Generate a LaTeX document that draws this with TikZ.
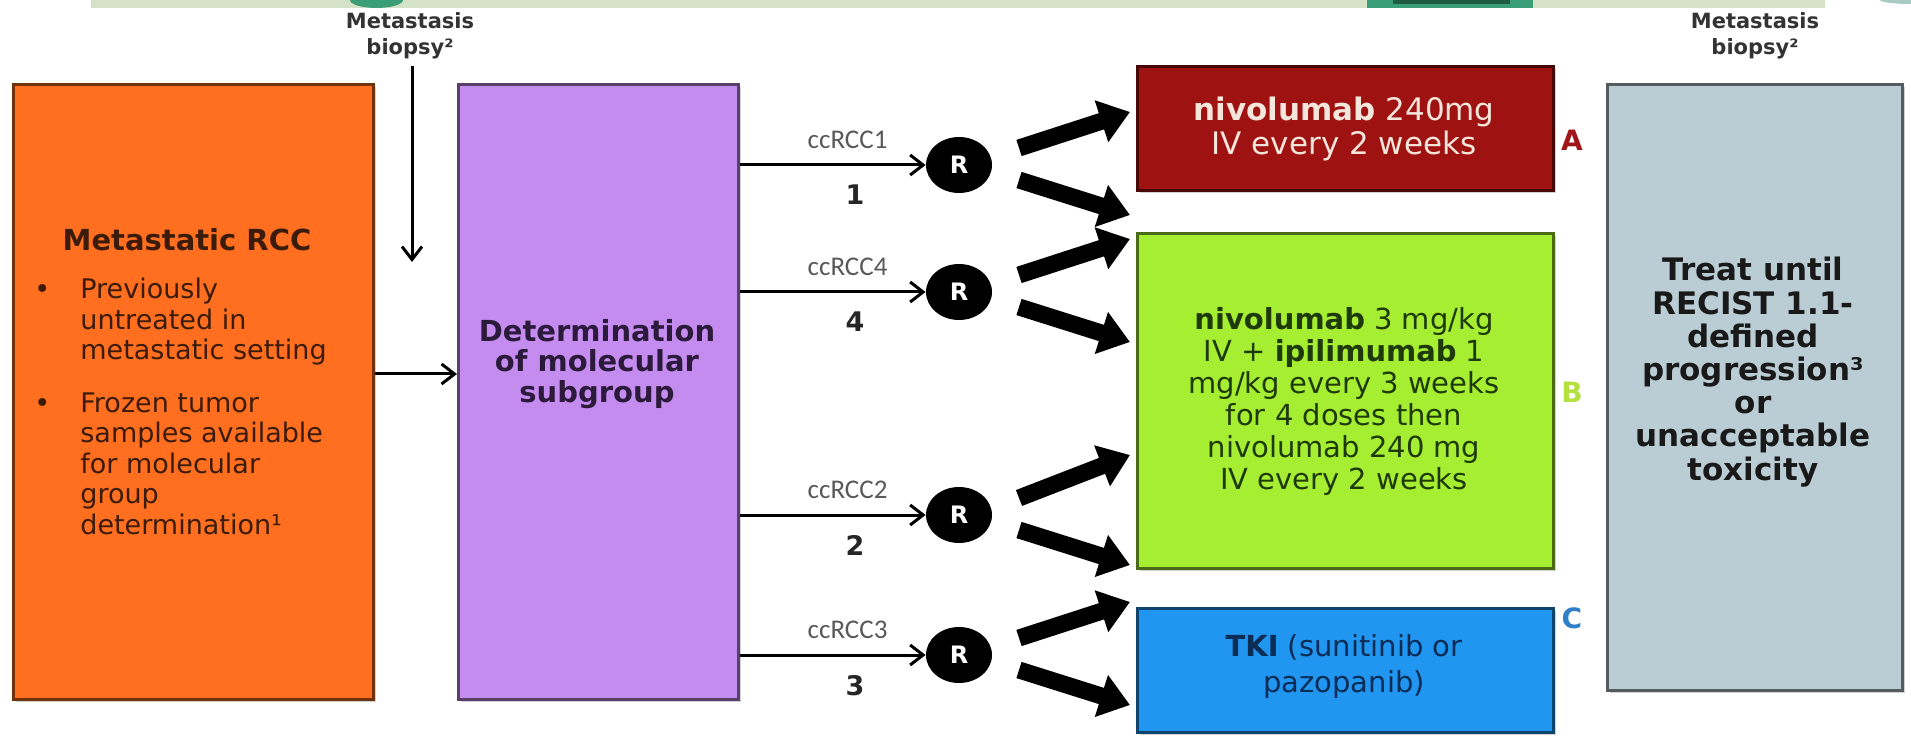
\documentclass[tikz,border=0pt]{standalone}
\usepackage{fontspec}
\setmainfont{DejaVu Sans}
\newfontfamily\labelfont{Carlito}
\usetikzlibrary{arrows.meta,shapes.geometric,calc,shadows}
\definecolor{bandgreen}{HTML}{D6E2C8}
\definecolor{tealgreen}{HTML}{3A9E78}
\definecolor{deepteal}{HTML}{1F5A42}
\definecolor{paleteal}{HTML}{A8CCC4}
\definecolor{fillorange}{HTML}{FF6F1F}
\definecolor{fillpurple}{HTML}{C58CF0}
\definecolor{filldarkred}{HTML}{9E1212}
\definecolor{fillgreen}{HTML}{A6EE32}
\definecolor{fillblue}{HTML}{2196F0}
\definecolor{fillgrey}{HTML}{BACDD5}
\definecolor{txtorange}{HTML}{3B1B0A}
\definecolor{txtpurple}{HTML}{2B1A3B}
\definecolor{txtred}{HTML}{F5E6DC}
\definecolor{txtgreen}{HTML}{1F3A0A}
\definecolor{txtblue}{HTML}{0B2C55}
\definecolor{armA}{HTML}{A0151A}
\definecolor{armB}{HTML}{B4E040}
\definecolor{armC}{HTML}{3080C8}
\newcommand{\fs}[2]{\fontsize{#1}{#2}\selectfont}

\begin{document}
\begin{tikzpicture}[x=0.5pt, y=-0.5pt, >=Latex,
  box/.style={draw=#1!45!black, line width=1.4pt, fill=#1, anchor=north west, inner sep=0pt,
    drop shadow={shadow xshift=1.2pt, shadow yshift=-1.2pt, opacity=0.35}},
  rnode/.style={ellipse, fill=black, text=white, font=\bfseries\fs{12}{14}, minimum width=33pt, minimum height=28pt, inner sep=0pt},
  thin/.style={line width=1.5pt, -{Straight Barb[length=6.5pt, width=10pt]}},
  fat/.style={line width=8.5pt, -{Triangle[length=15pt, width=21pt]}},
  group/.style={font=\labelfont\fs{13.5}{15}, text=black!65},
  armno/.style={font=\bfseries\fs{13.5}{16}, text=black!85},
  arm/.style={font=\bfseries\fs{14}{16}},
  biopsy/.style={align=center, font=\bfseries\fs{10.5}{13}, text=black!80}]
\useasboundingbox (0,0) rectangle (1911,737);
\fill[white] (0,0) rectangle (1911,737);

% Top strip (cut off)
\fill[bandgreen] (91,0) rectangle (1825,8);
\fill[tealgreen] (350,0) arc[start angle=180, end angle=0, x radius=26.5, y radius=8];
\fill[tealgreen] (1367,0) rectangle (1533,8);
\fill[deepteal] (1393,0) rectangle (1510,4);
\fill[paleteal] (1880,0) arc[start angle=180, end angle=0, x radius=31, y radius=4];

% Boxes
\node[box=fillorange, minimum width=180pt, minimum height=307.5pt] (mrcc) at (12,83) {};
\node[box=fillpurple, minimum width=140pt, minimum height=307.5pt] (subgrp) at (457,83) {};
\node[box=filldarkred, minimum width=208pt, minimum height=62pt] (armAbox) at (1136,65) {};
\node[box=fillgreen, minimum width=208pt, minimum height=167.5pt] (armBbox) at (1136,232) {};
\node[box=fillblue, minimum width=208pt, minimum height=62pt] (armCbox) at (1136,607) {};
\node[box=fillgrey, minimum width=147.5pt, minimum height=303pt] (treat) at (1606,83) {};

% Box texts
\node[font=\bfseries\fs{14.5}{16}, text=txtorange] (mrcctitle) at (187,240) {Metastatic RCC};
\node[anchor=north west, inner sep=0pt, align=left, font=\fs{13.5}{15.25}, text=txtorange] (mrcclist) at (34,278)
  {\makebox[23pt][l]{•}Previously\\
   \hspace*{23pt}untreated in\\
   \hspace*{23pt}metastatic setting\\[11pt]
   \makebox[23pt][l]{•}Frozen tumor\\
   \hspace*{23pt}samples available\\
   \hspace*{23pt}for molecular\\
   \hspace*{23pt}group\\
   \hspace*{23pt}determination¹};
\node[align=center, font=\bfseries\fs{14.5}{15.25}, text=txtpurple] (subgrptxt) at (597,364) {Determination\\of molecular\\subgroup};
\node[align=center, font=\fs{15.5}{17}, text=txtred] (armAtxt) at (1344,129) {\textbf{nivolumab} 240mg\\IV every 2 weeks};
\node[align=center, font=\fs{14.5}{16}, text=txtgreen] (armBtxt) at (1344,401)
  {\textbf{nivolumab} 3 mg/kg\\IV + \textbf{ipilimumab} 1\\mg/kg every 3 weeks\\for 4 doses then\\nivolumab 240 mg\\IV every 2 weeks};
\node[align=center, font=\fs{14.5}{18}, text=txtblue] (armCtxt) at (1344,666) {\textbf{TKI} (sunitinib or\\pazopanib)};
\node[align=center, font=\bfseries\fs{15.5}{16.6}, text=black!90] (treattxt) at (1753,372)
  {Treat until\\RECIST 1.1-\\defined\\progression³\\or\\unacceptable\\toxicity};

% Arm letters
\node[arm, text=armA] (letA) at (1572,140) {A};
\node[arm, text=armB] (letB) at (1572,392) {B};
\node[arm, text=armC] (letC) at (1572,618) {C};

% Biopsy labels
\node[biopsy] (bioL) at (410,36) {Metastasis\\biopsy²};
\node[biopsy] (bioR) at (1755,36) {Metastasis\\biopsy²};
\coordinate (bioLend) at (412,262);
\draw[thin] (bioL.south -| bioLend) -- (bioLend);

% Into subgroup
\coordinate (feed) at (0,374);
\draw[thin] (mrcc.east |- feed) -- (subgrp.west |- feed);

% Randomisation nodes
\node[rnode] (r1) at (959,165) {R};
\node[rnode] (r4) at (959,292) {R};
\node[rnode] (r2) at (959,515) {R};
\node[rnode] (r3) at (959,655) {R};

\foreach \r/\g/\u in {r1/1/-53, r4/4/-53, r2/2/-60, r3/3/-53}{
  \draw[thin] (subgrp.east |- \r) -- (\r.west)
    node[pos=0.58, above=4pt, group] {ccRCC\g}
    node[pos=0.62, below=6pt, armno] {\g};
  \draw[fat] ($(\r)+(60,-17)$) -- ($(\r -| armAbox.west)+(-6,\u)$);
  \draw[fat] ($(\r)+(60,15)$) -- ($(\r -| armAbox.west)+(-6,50)$);
}
\end{tikzpicture}
\end{document}
